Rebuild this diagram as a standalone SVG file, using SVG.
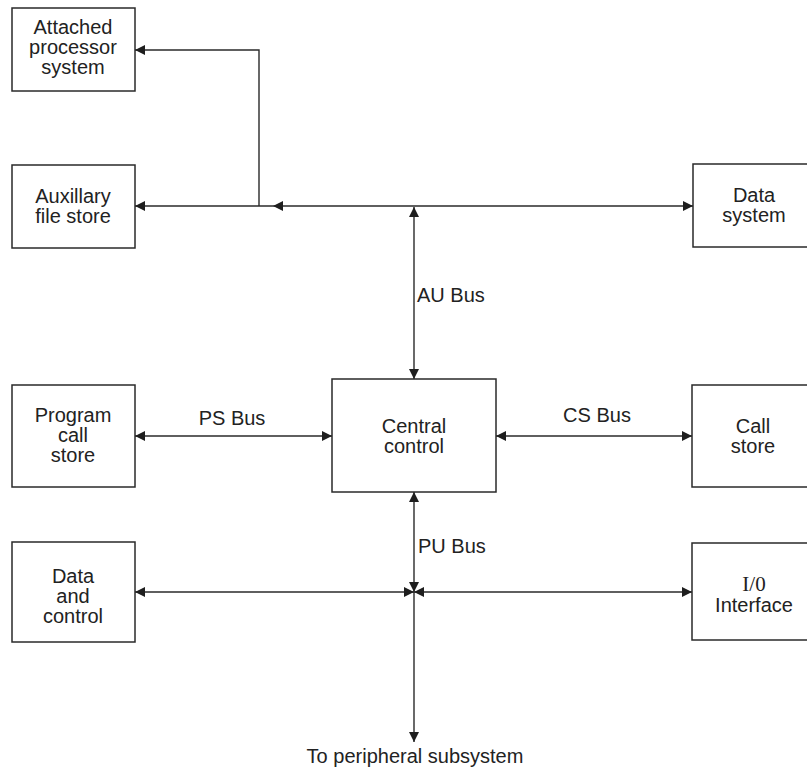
<svg xmlns="http://www.w3.org/2000/svg" width="807" height="775" viewBox="0 0 807 775">
  <style>
    .box { fill: #ffffff; stroke: #2a2a2a; stroke-width: 1.5; }
    .lbl { font-family: "Liberation Sans", Arial, Helvetica, sans-serif; font-size: 20px; fill: #222222; text-anchor: middle; }
    .lbl-l { font-family: "Liberation Sans", Arial, Helvetica, sans-serif; font-size: 20px; fill: #222222; }
    .serif { font-family: "Liberation Serif", "Times New Roman", serif; font-size: 21px; }
    .wire { fill: none; stroke: #2a2a2a; stroke-width: 1.4; }
  </style>
  <defs>
    <marker id="arrow" viewBox="0 0 10 10" refX="10" refY="5" markerWidth="11" markerHeight="10" markerUnits="userSpaceOnUse" orient="auto-start-reverse">
      <path d="M0,0 L10,5 L0,10 z" fill="#1e1e1e"/>
    </marker>
  </defs>

  <rect width="807" height="775" fill="#ffffff"/>

  <!-- buses and links -->
  <g id="connectors">
    <!-- AU bus: horizontal trunk -->
    <path class="wire" d="M414,206 L693,206" marker-end="url(#arrow)"/>
    <path class="wire" d="M414,206 L273,206" marker-end="url(#arrow)"/>
    <path class="wire" d="M273,206 L135,206" marker-end="url(#arrow)"/>
    <!-- branch up to the attached processor -->
    <path class="wire" d="M259,206 L259,50 L135,50" marker-end="url(#arrow)"/>
    <!-- AU bus: vertical link to central control -->
    <path class="wire" d="M414,379 L414,207" marker-start="url(#arrow)" marker-end="url(#arrow)"/>
    <!-- PS bus -->
    <path class="wire" d="M332,436 L135,436" marker-start="url(#arrow)" marker-end="url(#arrow)"/>
    <!-- CS bus -->
    <path class="wire" d="M496,436 L692,436" marker-start="url(#arrow)" marker-end="url(#arrow)"/>
    <!-- PU bus -->
    <path class="wire" d="M414,530 L414,492" marker-end="url(#arrow)"/>
    <path class="wire" d="M414,530 L414,592" marker-end="url(#arrow)"/>
    <path class="wire" d="M414,592 L414,742" marker-end="url(#arrow)"/>
    <path class="wire" d="M135,592 L414,592" marker-start="url(#arrow)" marker-end="url(#arrow)"/>
    <path class="wire" d="M692,592 L414,592" marker-start="url(#arrow)" marker-end="url(#arrow)"/>
  </g>

  <!-- bus labels -->
  <g id="bus-labels">
    <text class="lbl-l" x="417" y="302">AU Bus</text>
    <text class="lbl" x="232" y="425">PS Bus</text>
    <text class="lbl" x="597" y="422">CS Bus</text>
    <text class="lbl-l" x="418" y="553">PU Bus</text>
    <text class="lbl" x="415" y="763">To peripheral subsystem</text>
  </g>

  <g id="attached-processor">
    <rect class="box" x="12" y="8" width="123" height="83"/>
    <text class="lbl" x="73" y="34">Attached</text>
    <text class="lbl" x="73" y="54">processor</text>
    <text class="lbl" x="73" y="74">system</text>
  </g>

  <g id="auxiliary-file-store">
    <rect class="box" x="12" y="165" width="123" height="83"/>
    <text class="lbl" x="73" y="203">Auxillary</text>
    <text class="lbl" x="73" y="223">file store</text>
  </g>

  <g id="data-system">
    <rect class="box" x="693" y="164" width="120" height="83"/>
    <text class="lbl" x="754" y="202">Data</text>
    <text class="lbl" x="754" y="222">system</text>
  </g>

  <g id="central-control">
    <rect class="box" x="332" y="379" width="164" height="113"/>
    <text class="lbl" x="414" y="433">Central</text>
    <text class="lbl" x="414" y="453">control</text>
  </g>

  <g id="program-call-store">
    <rect class="box" x="12" y="385" width="123" height="102"/>
    <text class="lbl" x="73" y="422">Program</text>
    <text class="lbl" x="73" y="442">call</text>
    <text class="lbl" x="73" y="462">store</text>
  </g>

  <g id="call-store">
    <rect class="box" x="692" y="385" width="121" height="102"/>
    <text class="lbl" x="753" y="433">Call</text>
    <text class="lbl" x="753" y="453">store</text>
  </g>

  <g id="data-and-control">
    <rect class="box" x="12" y="542" width="123" height="100"/>
    <text class="lbl" x="73" y="583">Data</text>
    <text class="lbl" x="73" y="603">and</text>
    <text class="lbl" x="73" y="623">control</text>
  </g>

  <g id="io-interface">
    <rect class="box" x="692" y="543" width="121" height="97"/>
    <text class="lbl serif" x="754" y="591">I/0</text>
    <text class="lbl" x="754" y="612">Interface</text>
  </g>
</svg>
